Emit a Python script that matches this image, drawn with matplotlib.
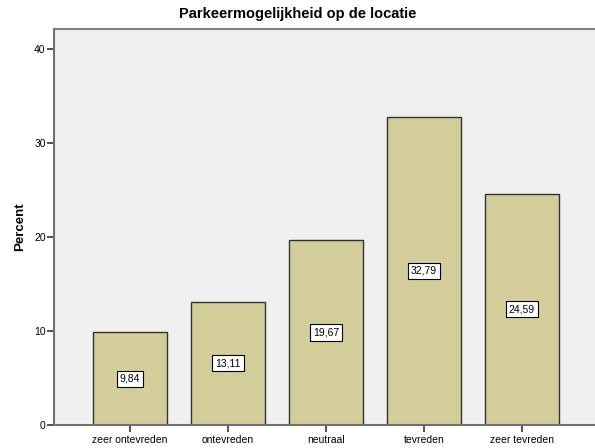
import numpy as np
import matplotlib
matplotlib.use("Agg")
import matplotlib.pyplot as plt

plt.rcParams['font.family'] = ['Liberation Sans', 'DejaVu Sans']

categories = ["zeer ontevreden", "ontevreden", "neutraal", "tevreden", "zeer tevreden"]
percent = [9.84, 13.11, 19.67, 32.79, 24.59]
value_labels = ["9,84", "13,11", "19,67", "32,79", "24,59"]

fig = plt.figure(figsize=(5.95, 4.48), dpi=100)
ax = fig.add_axes([54 / 595, 1 - 425 / 448, 541 / 595, 396 / 448])
ax.set_facecolor('#f0f0f0')

x = np.arange(len(categories))
ax.bar(x, percent, width=0.755, color='#d3ce99', edgecolor='#333333', linewidth=1.0, zorder=2)

for xi, v, lab in zip(x, percent, value_labels):
    ax.text(xi, v / 2, lab, ha='center', va='center', fontsize=7.5, zorder=3,
            bbox=dict(boxstyle='square,pad=0.3', facecolor='white', edgecolor='black', linewidth=0.8))

ax.set_xlim(-0.776, 4.745)
ax.set_ylim(0, 42.1)
ax.set_yticks([0, 10, 20, 30, 40])
ax.set_xticks(x)
ax.set_xticklabels(categories, fontsize=7.5)
ax.tick_params(axis='y', labelsize=7.5, length=5, width=1.2, color='#333333', pad=1)
ax.tick_params(axis='x', length=5, width=1.2, color='#333333', pad=2)

ax.spines['right'].set_visible(False)
ax.spines['top'].set_color('#808080')
ax.spines['top'].set_linewidth(1.5)
ax.spines['left'].set_color('#707070')
ax.spines['left'].set_linewidth(1.5)
ax.spines['bottom'].set_color('#707070')
ax.spines['bottom'].set_linewidth(1.5)

ax.set_ylabel("Percent", fontsize=9.5, fontweight='bold', labelpad=6)
fig.text(0.5, 1 - 14 / 448, "Parkeermogelijkheid op de locatie", ha='center', va='center',
         fontsize=10.5, fontweight='bold')

fig.savefig("out.png", dpi=100)
